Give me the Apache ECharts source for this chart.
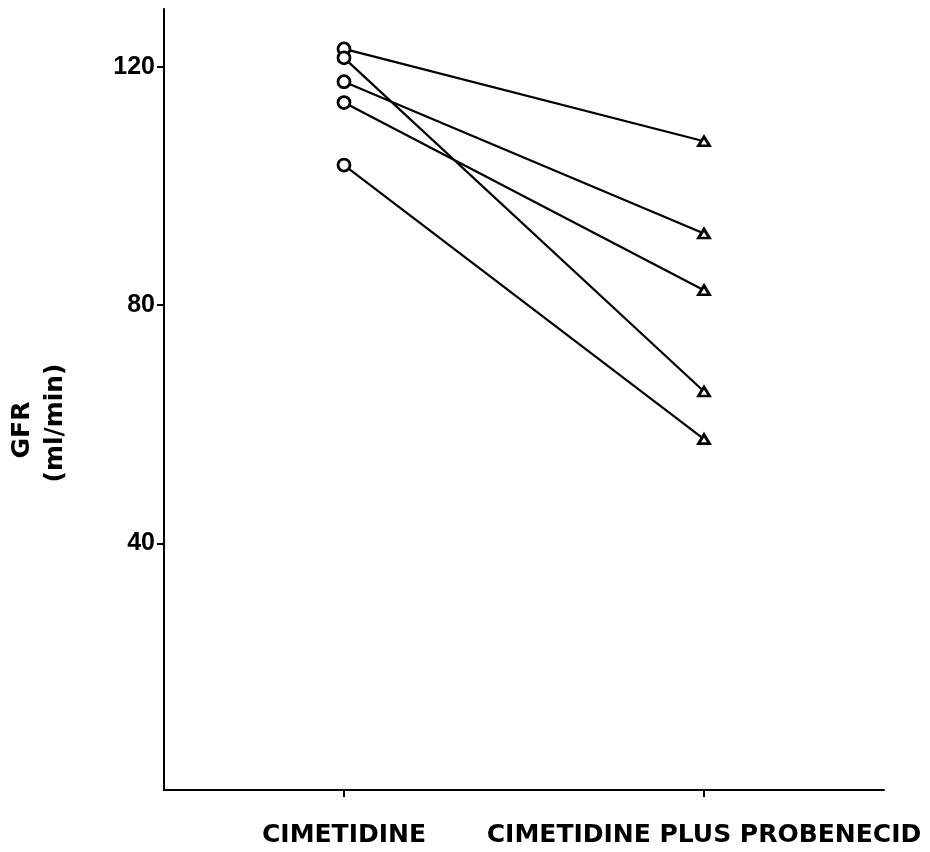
<!DOCTYPE html>
<html>
<head>
<meta charset="utf-8">
<title>GFR: cimetidine vs cimetidine plus probenecid</title>
<script src="https://cdn.jsdelivr.net/npm/echarts@6/dist/echarts.min.js"></script>
<style>
  html, body { margin: 0; padding: 0; background: #fff; }
  #chart { width: 930px; height: 852px; }
</style>
</head>
<body>
<div id="chart"></div>
<script>
// Treatment phases on the x axis
const categories = ['CIMETIDINE', 'CIMETIDINE PLUS PROBENECID'];
// GFR (ml/min) for each subject, same order in both arrays
const cimetidine = [123, 121.5, 117.5, 114, 103.5];
const withProbenecid = [107.5, 65.5, 92, 82.5, 57.5];
// Labelled ticks on the GFR axis
const yTicks = [40, 80, 120];

const chart = echarts.init(document.getElementById('chart'), null, { renderer: 'canvas' });

// One line per subject: open circle on cimetidine alone, open triangle with probenecid
const series = cimetidine.map((v, i) => ({
  type: 'line',
  name: 'Subject ' + (i + 1),
  data: [v, withProbenecid[i]],
  symbol: (val, params) => params.dataIndex === 0 ? 'circle' : 'triangle',
  symbolSize: (val, params) => params.dataIndex === 0 ? 12 : [11, 9],
  itemStyle: { color: '#fff', borderColor: '#000', borderWidth: 2.8 },
  lineStyle: { color: '#000', width: 2.2 },
  emphasis: { disabled: true },
  silent: true
}));

chart.setOption({
  animation: false,
  backgroundColor: '#fff',
  grid: { left: 164, right: 46, top: 9, bottom: 62, containLabel: false, outerBoundsMode: 'none' },
  xAxis: {
    type: 'category',
    data: categories,
    boundaryGap: true,
    axisLine: { show: true, onZero: false, lineStyle: { color: '#000', width: 2 } },
    axisTick: { show: true, alignWithLabel: true, length: 7, lineStyle: { color: '#000', width: 2 } },
    axisLabel: {
      color: '#000', fontFamily: 'DejaVu Sans', fontWeight: 'bold', fontSize: 25,
      margin: 33, interval: 0
    },
    splitLine: { show: false }
  },
  yAxis: {
    type: 'value',
    min: -1.4,
    max: 129.7,
    axisLine: { show: true, onZero: false, lineStyle: { color: '#000', width: 2 } },
    axisTick: { show: true, customValues: yTicks, length: 7, lineStyle: { color: '#000', width: 2 } },
    axisLabel: {
      customValues: yTicks, color: '#000', fontFamily: 'Liberation Sans',
      fontWeight: 'bold', fontSize: 25, margin: 9
    },
    splitLine: { show: false }
  },
  graphic: [
    {
      type: 'text', x: 22, y: 430, rotation: Math.PI / 2,
      style: { text: 'GFR', fill: '#000', font: 'bold 25px "DejaVu Sans"', align: 'center', verticalAlign: 'middle' }
    },
    {
      type: 'text', x: 55, y: 423, rotation: Math.PI / 2,
      style: { text: '(ml/min)', fill: '#000', font: 'bold 25px "DejaVu Sans"', align: 'center', verticalAlign: 'middle' }
    }
  ],
  series: series
});
</script>
</body>
</html>
